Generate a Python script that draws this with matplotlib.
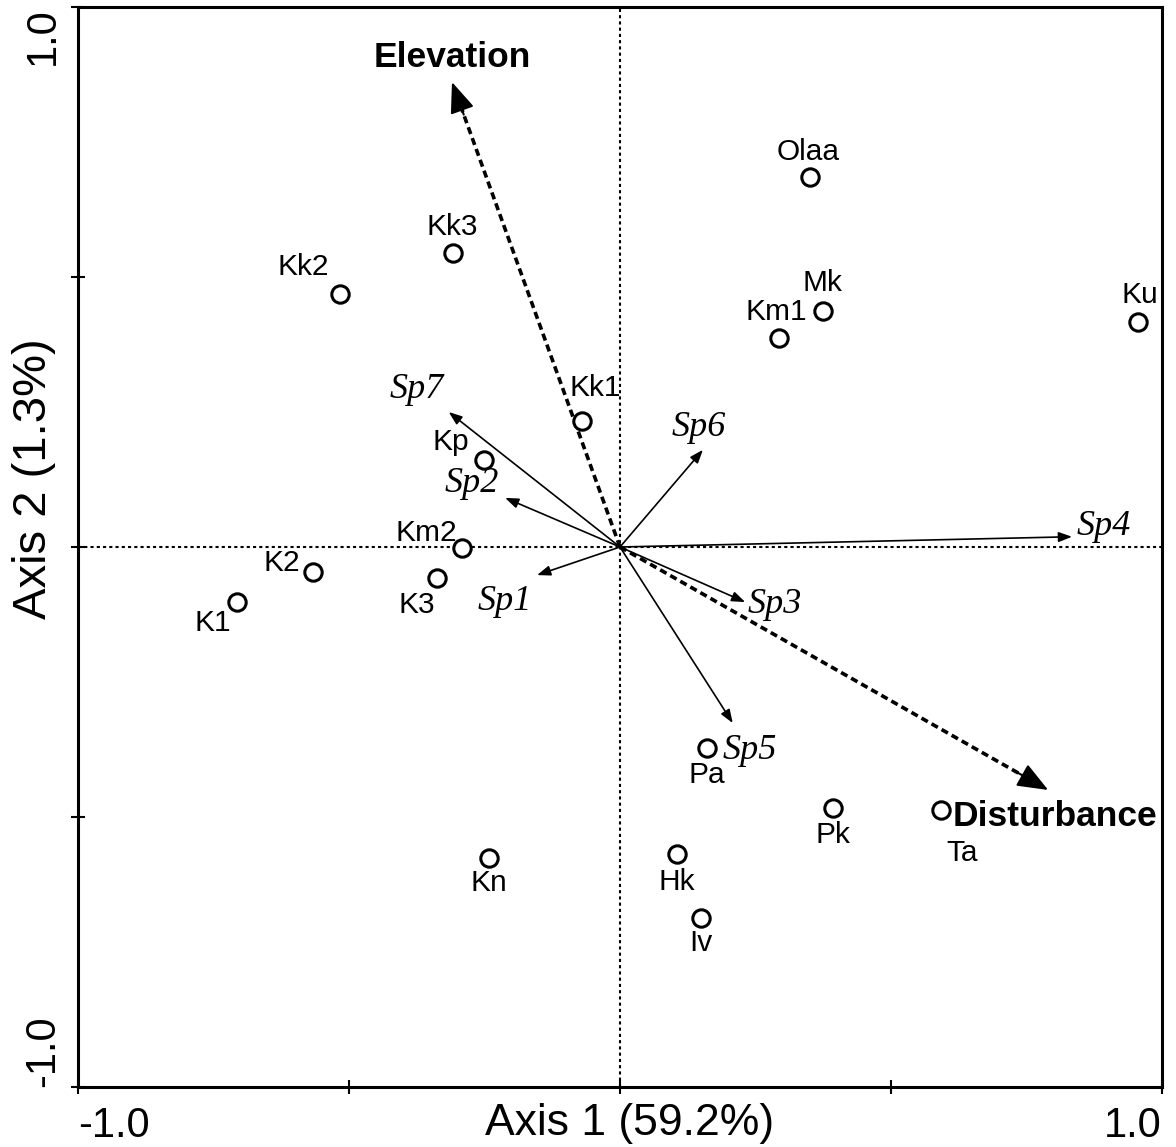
import matplotlib.pyplot as plt

# site scores (Axis 1, Axis 2)
site_names = ['Olaa', 'Mk', 'Km1', 'Ku', 'Kk3', 'Kk2', 'Kk1', 'Kp', 'Km2',
              'K2', 'K3', 'K1', 'Pa', 'Pk', 'Ta', 'Kn', 'Hk', 'Iv']
site_x = [0.351, 0.375, 0.293, 0.956, -0.308, -0.517, -0.070, -0.251, -0.292,
          -0.566, -0.338, -0.707, 0.161, 0.393, 0.592, -0.242, 0.105, 0.149]
site_y = [0.685, 0.437, 0.387, 0.417, 0.544, 0.469, 0.233, 0.161, -0.002,
          -0.046, -0.057, -0.102, -0.372, -0.483, -0.487, -0.576, -0.569, -0.687]

# environmental vectors
env_names = ['Elevation', 'Disturbance']
env_x = [-0.310, 0.790]
env_y = [0.861, -0.450]

# species vectors
sp_names = ['Sp1', 'Sp2', 'Sp3', 'Sp4', 'Sp5', 'Sp6', 'Sp7']
sp_x = [-0.153, -0.212, 0.231, 0.834, 0.208, 0.153, -0.316]
sp_y = [-0.052, 0.091, -0.102, 0.019, -0.326, 0.180, 0.250]

# label offsets in pixels (dx, dy), y up
site_off = {'Olaa': (-2, 25), 'Mk': (-1, 28), 'Km1': (-2, 26), 'Ku': (2, 27),
            'Kk3': (-1, 26), 'Kk2': (-37, 27), 'Kk1': (13, 33), 'Kp': (-33, 18),
            'Km2': (-35, 15), 'K2': (-31, 9), 'K3': (-20, -27), 'K1': (-24, -21),
            'Pa': (0, -27), 'Pk': (0, -27), 'Ta': (21, -43), 'Kn': (0, -25),
            'Hk': (0, -28), 'Iv': (0, -25)}
env_off = {'Elevation': (0, 25), 'Disturbance': (7, -27)}
sp_off = {'Sp1': (-32, -26), 'Sp2': (-33, 14), 'Sp3': (30, -2), 'Sp4': (32, 10),
          'Sp5': (17, -27), 'Sp6': (-4, 22), 'Sp7': (-32, 23)}

px = 72 / 100  # pixel -> points

fig = plt.figure(figsize=(11.76, 11.47), dpi=100)
ax = fig.add_axes([78 / 1176, 1 - 1087 / 1147, 1084 / 1176, 1080 / 1147])
ax.set_xlim(-1, 1)
ax.set_ylim(-1, 1)

# zero lines
ax.axhline(0, color='k', lw=1.5, ls=(0, (1.5, 1.5)), zorder=1)
ax.axvline(0, color='k', lw=1.5, ls=(0, (1.5, 1.5)), zorder=1)

# species arrows
for name, x, y in zip(sp_names, sp_x, sp_y):
    ax.annotate('', xy=(x, y), xytext=(0, 0),
                arrowprops=dict(arrowstyle='-|>,head_length=0.8,head_width=0.3',
                                mutation_scale=10, color='k', lw=1.2,
                                shrinkA=0, shrinkB=0), zorder=2)
    dx, dy = sp_off[name]
    ax.annotate(name, xy=(x, y), xytext=(dx * px, dy * px), textcoords='offset points',
                ha='center', va='center', fontsize=26, style='italic',
                family='Liberation Serif', zorder=4)

# environmental arrows: dashed shaft + solid head
for name, x, y in zip(env_names, env_x, env_y):
    ax.plot([0, x * 0.96], [0, y * 0.96], color='k', lw=2.6,
            ls=(0, (2, 1.2)), zorder=3)
    ax.annotate('', xy=(x, y), xytext=(x * 0.93, y * 0.93),
                arrowprops=dict(arrowstyle='-|>,head_length=0.95,head_width=0.38',
                                mutation_scale=20, color='k', lw=1.5,
                                shrinkA=0, shrinkB=0), zorder=3)
    dx, dy = env_off[name]
    ax.annotate(name, xy=(x, y), xytext=(dx * px, dy * px), textcoords='offset points',
                ha='center', va='center', fontsize=25.5, fontweight='bold',
                family='Liberation Sans', zorder=4)

# sites
ax.plot(site_x, site_y, 'o', ms=12.5, mfc='white', mec='k', mew=2.2, zorder=5)
for name, x, y in zip(site_names, site_x, site_y):
    dx, dy = site_off[name]
    ax.annotate(name, xy=(x, y), xytext=(dx * px, dy * px), textcoords='offset points',
                ha='center', va='center', fontsize=21.5, family='Liberation Sans', zorder=4)

# frame and ticks
for s in ax.spines.values():
    s.set_linewidth(2.2)
ax.set_xticks([-1, -0.5, 0, 0.5, 1])
ax.set_xticklabels(['-1.0', '', '', '', '1.0'], fontsize=30, family='Liberation Sans')
ax.set_yticks([-1, -0.5, 0, 0.5, 1])
ax.set_yticklabels(['-1.0', '', '', '', '1.0'], fontsize=30, family='Liberation Sans',
                   rotation=90)
ax.tick_params(direction='inout', length=10, width=1.5)
ax.tick_params(axis='x', pad=9)
ax.tick_params(axis='y', pad=20)
xl = ax.get_xticklabels()
xl[0].set_ha('left')
xl[-1].set_ha('right')
yl = ax.get_yticklabels()
for t in yl:
    t.set_ha('center')
yl[0].set_va('bottom')
yl[-1].set_va('top')

ax.set_xlabel('Axis 1 (59.2%)', fontsize=32, family='Liberation Sans')
ax.set_ylabel('Axis 2 (1.3%)', fontsize=34, family='Liberation Sans')
ax.xaxis.label.set_va('center')
ax.yaxis.label.set_va('center')
ax.xaxis.set_label_coords(0.509, -0.034)
ax.yaxis.set_label_coords(-0.041, 0.563)

fig.savefig('out.png', dpi=100)
